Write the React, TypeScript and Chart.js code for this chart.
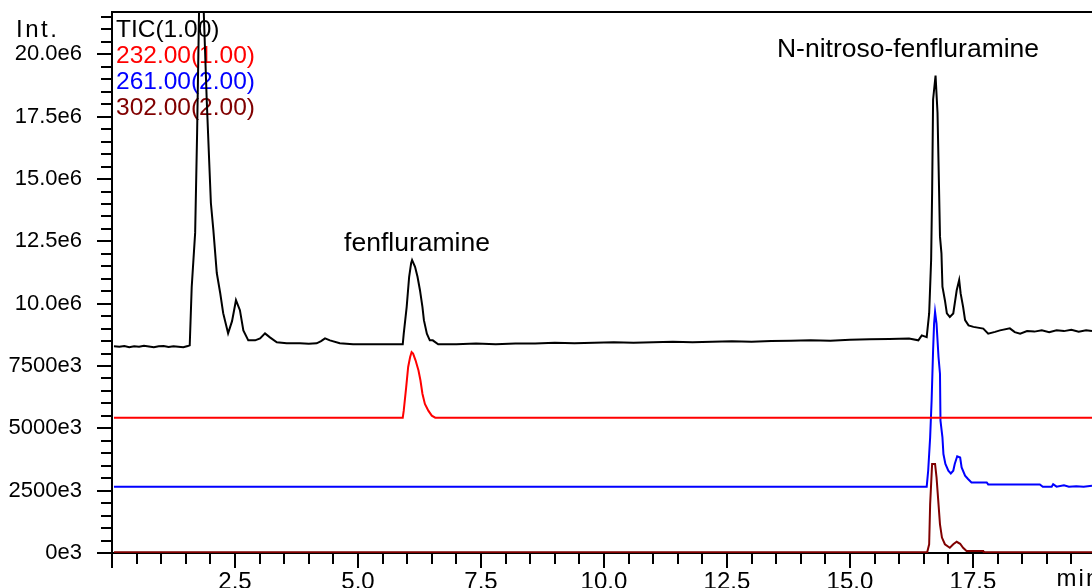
import { useEffect, useRef } from 'react';
import { Chart, registerables } from 'chart.js';

Chart.register(...registerables);

// ---------- DATA (time in min, intensity in units of 1e6 counts) ----------
const ticTime = [
  0.04, 0.15, 0.25, 0.35, 0.45, 0.55, 0.65, 0.75, 0.85, 0.95, 1.05, 1.15, 1.25, 1.35, 1.45, 1.54, 1.58,
  1.62, 1.69, 1.73, 1.80, 1.925, 1.98, 2.01, 2.06, 2.13, 2.20, 2.26, 2.36, 2.44, 2.52, 2.60, 2.67, 2.77,
  2.91, 3.01, 3.11, 3.21, 3.35, 3.55, 3.82, 4.00, 4.16, 4.25, 4.33, 4.43, 4.63, 4.90, 5.20, 5.50, 5.80,
  5.91, 5.93, 5.99, 6.04, 6.08, 6.10, 6.16, 6.21, 6.26, 6.31, 6.34, 6.40, 6.46, 6.52, 6.63, 7.0, 7.4,
  7.8, 8.2, 8.6, 9.0, 9.4, 9.8, 10.2, 10.6, 11.0, 11.4, 11.8, 12.2, 12.6, 13.0, 13.4, 13.8, 14.2, 14.6,
  15.0, 15.4, 15.8, 16.2, 16.39, 16.46, 16.56, 16.61, 16.65, 16.67, 16.69, 16.74, 16.78, 16.81, 16.83,
  16.86, 16.88, 16.93, 16.97, 17.03, 17.10, 17.17, 17.22, 17.25, 17.30, 17.34, 17.41, 17.51, 17.71,
  17.81, 17.95, 18.05, 18.25, 18.35, 18.46, 18.60, 18.75, 18.90, 19.05, 19.20, 19.35, 19.50, 19.65,
  19.80, 19.92,
];
const ticValues = [
  8.29, 8.27, 8.30, 8.25, 8.29, 8.27, 8.31, 8.28, 8.25, 8.29, 8.30, 8.26, 8.29, 8.27, 8.25, 8.30, 8.33,
  10.66, 12.84, 16.86, 25.5, 18.19, 15.49, 14.04, 12.96, 11.23, 10.42, 9.62, 8.81, 9.30, 10.14, 9.74, 8.93, 8.53,
  8.53, 8.61, 8.81, 8.65, 8.45, 8.41, 8.41, 8.39, 8.41, 8.50, 8.61, 8.53, 8.41, 8.37, 8.37, 8.37, 8.37,
  8.37, 8.80, 9.87, 11.08, 11.62, 11.75, 11.48, 11.08, 10.54, 9.87, 9.34, 8.80, 8.53, 8.53, 8.37, 8.37, 8.40,
  8.37, 8.40, 8.40, 8.43, 8.41, 8.43, 8.45, 8.43, 8.45, 8.47, 8.45, 8.47, 8.49, 8.47, 8.50, 8.51, 8.53, 8.51,
  8.55, 8.57, 8.58, 8.60, 8.53, 8.73, 8.66, 9.61, 11.75, 14.43, 18.19, 19.15, 17.65, 14.70, 12.69,
  12.02, 10.68, 10.14, 9.61, 9.47, 9.61, 10.54, 10.95, 10.41, 9.87, 9.34, 9.13, 9.07, 9.00,
  8.80, 8.87, 8.93, 9.01, 8.86, 8.80, 8.90, 8.88, 8.93, 8.86, 8.93, 8.90, 8.95, 8.88,
  8.93, 8.90,
];

const m232Time = [0.04, 5.91, 5.93, 5.98, 6.02, 6.06, 6.09, 6.12, 6.17, 6.23, 6.27, 6.31, 6.36, 6.43, 6.50, 6.57, 19.92];
const m232Values = [5.43, 5.43, 5.71, 6.65, 7.46, 7.86, 8.06, 8.00, 7.73, 7.32, 6.92, 6.39, 5.98, 5.71, 5.51, 5.43, 5.43];

const m261Time = [
  0.04, 16.56, 16.59, 16.63, 16.66, 16.69, 16.71, 16.73, 16.76, 16.80, 16.83, 16.84, 16.88, 16.90, 16.94,
  17.00, 17.05, 17.10, 17.13, 17.18, 17.24, 17.27, 17.34, 17.40, 17.47, 17.78, 17.81, 18.86, 18.92, 19.10,
  19.13, 19.20, 19.35, 19.45, 19.60, 19.75, 19.92,
];
const m261Values = [
  2.66, 2.66, 3.30, 4.64, 6.12, 8.13, 9.20, 9.67, 9.20, 7.86, 7.19, 5.31, 4.64, 3.97, 3.57,
  3.30, 3.19, 3.30, 3.57, 3.88, 3.83, 3.43, 3.10, 2.97, 2.83, 2.83, 2.75, 2.75, 2.66, 2.66,
  2.76, 2.66, 2.72, 2.66, 2.68, 2.66, 2.70,
];

const m302Time = [
  0.04, 16.57, 16.61, 16.63, 16.67, 16.73, 16.76, 16.80, 16.83, 16.87, 16.93, 17.03, 17.10, 17.17, 17.24,
  17.30, 17.37, 17.71, 17.72, 19.92,
];
const m302Values = [
  0.03, 0.03, 0.35, 1.96, 3.57, 3.57, 3.03, 1.96, 1.15, 0.62, 0.35, 0.21, 0.35, 0.45, 0.37,
  0.21, 0.08, 0.08, 0.03, 0.03,
];

const legendLabels = ['TIC(1.00)', '232.00(1.00)', '261.00(2.00)', '302.00(2.00)'];
const seriesColors = ['#000000', '#ff0000', '#0000ff', '#800000'];

const peakLabels = ['fenfluramine', 'N-nitroso-fenfluramine'];
const peakLabelTime = [6.2, 16.18];
const peakLabelIntensity = [12.1, 19.9];

const xMin = 0;
const xMax = 19.92;
const yMin = 0;
const yMax = 21.7;
const minorStep = 0.5;
const majorStep = 2.5;
const yAxisTitle = 'Int.';
const xAxisUnit = 'min';
const xUnitTime = 19.2;

// ---------------------------------------------------------------------------
const FONT = "'Liberation Sans', Arial, sans-serif";

const isMajor = (v: number) => Math.abs(v / majorStep - Math.round(v / majorStep)) < 1e-6;

const formatY = (v: number) => {
  if (!isMajor(v)) return '';
  if (v >= 10 - 1e-6) return v.toFixed(1) + 'e6';
  return Math.round(v * 1000) + 'e3';
};

const formatX = (v: number) => {
  if (!isMajor(v) || v < 0.1 || v > xMax - 0.1) return '';
  return v.toFixed(1);
};

const toPoints = (t: number[], v: number[]) => t.map((tt, i) => ({ x: tt, y: v[i] }));

const decorPlugin = {
  id: 'decor',
  beforeDatasetsDraw(chart: any) {
    const { ctx, chartArea } = chart;
    const x = chart.scales.x;
    const y = chart.scales.y;
    ctx.save();
    ctx.strokeStyle = '#000';
    ctx.lineWidth = 2;
    // tick marks
    x.ticks.forEach((t: any) => {
      const px = Math.round(x.getPixelForValue(t.value));
      const len = isMajor(t.value) ? 15 : 11;
      ctx.beginPath();
      ctx.moveTo(px, chartArea.bottom);
      ctx.lineTo(px, chartArea.bottom + len);
      ctx.stroke();
    });
    y.ticks.forEach((t: any) => {
      const py = Math.round(y.getPixelForValue(t.value));
      const len = isMajor(t.value) ? 15 : 11;
      ctx.beginPath();
      ctx.moveTo(chartArea.left, py);
      ctx.lineTo(chartArea.left - len, py);
      ctx.stroke();
    });
    // top frame line
    ctx.beginPath();
    ctx.moveTo(chartArea.left - 1, chartArea.top);
    ctx.lineTo(chartArea.right, chartArea.top);
    ctx.stroke();

    // legend text
    ctx.textBaseline = 'alphabetic';
    ctx.textAlign = 'left';
    ctx.font = `24.5px ${FONT}`;
    legendLabels.forEach((lab, i) => {
      ctx.fillStyle = seriesColors[i];
      ctx.fillText(lab, chartArea.left + 4, 37 + i * 26);
    });

    // axis title
    ctx.fillStyle = '#000';
    ctx.font = `24px ${FONT}`;
    (ctx as any).letterSpacing = '2.5px';
    ctx.fillText(yAxisTitle, 16, 36.5);
    (ctx as any).letterSpacing = '2px';
    ctx.font = `24px ${FONT}`;
    ctx.textAlign = 'left';
    ctx.fillText(xAxisUnit, x.getPixelForValue(xUnitTime), 586);
    (ctx as any).letterSpacing = '0px';

    // peak annotations
    ctx.font = `26.5px ${FONT}`;
    ctx.textAlign = 'center';
    peakLabels.forEach((lab, i) => {
      ctx.fillText(lab, x.getPixelForValue(peakLabelTime[i]), y.getPixelForValue(peakLabelIntensity[i]));
    });
    ctx.restore();
  },
};

export default function App() {
  const ref = useRef<HTMLCanvasElement | null>(null);

  useEffect(() => {
    document.body.style.margin = '0';
    const canvas = ref.current;
    if (!canvas) return;
    const mk = (t: number[], v: number[], color: string) => ({
      data: toPoints(t, v),
      borderColor: color,
      backgroundColor: color,
      borderWidth: 2,
      pointRadius: 0,
      tension: 0,
      fill: false,
    });
    const chart = new Chart(canvas, {
      type: 'line',
      data: {
        datasets: [
          { label: legendLabels[0], ...mk(ticTime, ticValues, seriesColors[0]) },
          { label: legendLabels[1], ...mk(m232Time, m232Values, seriesColors[1]) },
          { label: legendLabels[2], ...mk(m261Time, m261Values, seriesColors[2]) },
          { label: legendLabels[3], ...mk(m302Time, m302Values, seriesColors[3]) },
        ],
      },
      options: {
        animation: false,
        responsive: false,
        devicePixelRatio: 1,
        parsing: false as any,
        layout: { padding: { top: 12, left: 0, right: 0, bottom: 0 } },
        plugins: { legend: { display: false }, tooltip: { enabled: false } },
        scales: {
          x: {
            type: 'linear',
            min: xMin,
            max: xMax,
            afterFit: (s: any) => { s.height = 35; s.paddingLeft = 0; s.paddingRight = 0; },
            border: { display: true, color: '#000', width: 2 },
            grid: { display: true, drawOnChartArea: false, drawTicks: true, tickLength: 15, tickColor: 'rgba(0,0,0,0)' },
            ticks: {
              stepSize: minorStep,
              includeBounds: false,
              autoSkip: false,
              maxRotation: 0,
              padding: 0,
              color: '#000',
              font: { family: FONT, size: 24 },
              callback: (v: any) => formatX(Number(v)),
            },
          },
          y: {
            type: 'linear',
            min: yMin,
            max: yMax,
            afterFit: (s: any) => { s.width = 112; s.paddingTop = 0; s.paddingBottom = 0; },
            border: { display: true, color: '#000', width: 2 },
            grid: { display: true, drawOnChartArea: false, drawTicks: true, tickLength: 15, tickColor: 'rgba(0,0,0,0)' },
            ticks: {
              stepSize: minorStep,
              includeBounds: false,
              autoSkip: false,
              padding: 15,
              color: '#000',
              font: { family: FONT, size: 22 },
              callback: (v: any) => formatY(Number(v)),
            },
          },
        },
      },
      plugins: [decorPlugin],
    });
    return () => chart.destroy();
  }, []);

  return (
    <div style={{ position: 'absolute', left: 0, top: 0, width: 1092, height: 588, background: '#fff' }}>
      <canvas ref={ref} width={1092} height={588} style={{ display: 'block', width: 1092, height: 588 }} />
    </div>
  );
}
